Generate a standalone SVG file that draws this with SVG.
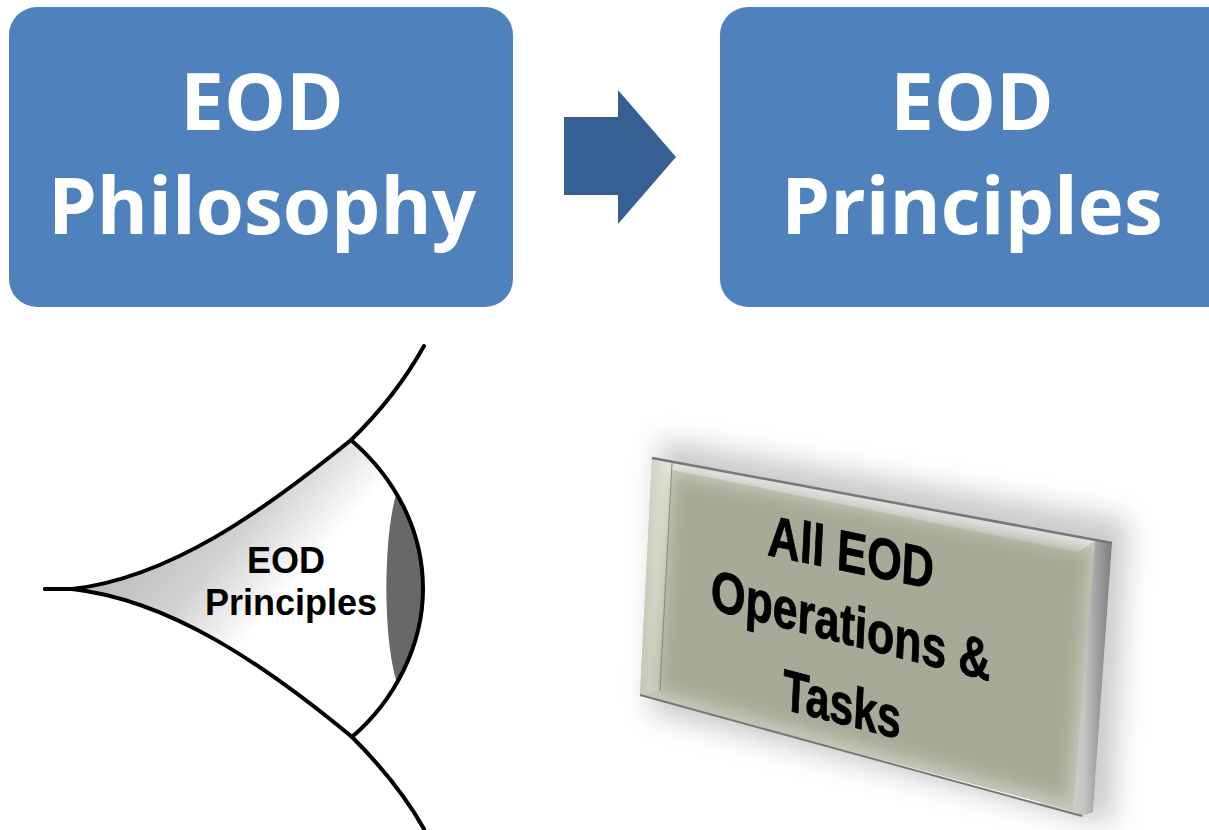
<svg xmlns="http://www.w3.org/2000/svg" width="1209" height="830" viewBox="0 0 1209 830">
<style>
.box{fill:#4f81bd}
.big{font-family:"Open Sans","Liberation Sans",sans-serif;font-weight:700;font-size:78px;fill:#fff;text-anchor:middle}
.lab{font-family:"Liberation Sans",Arial,sans-serif;font-weight:700;font-size:36px;fill:#000;text-anchor:middle}
.pl{font-family:"Liberation Sans",Arial,sans-serif;font-weight:700;font-size:46px;fill:#000;stroke:#000;stroke-width:0.7;text-anchor:middle}
.ln{fill:none;stroke:#000;stroke-width:4;stroke-linecap:round}
</style>
<defs>
<linearGradient id="fun" gradientUnits="userSpaceOnUse" x1="202" y1="463" x2="315" y2="561">
<stop offset="0" stop-color="#bdbdbd"/><stop offset="0.5" stop-color="#d2d2d2"/><stop offset="1" stop-color="#fff"/>
</linearGradient>
<linearGradient id="side" gradientUnits="userSpaceOnUse" x1="1062" y1="0" x2="1112" y2="0">
<stop offset="0" stop-color="#d8d8d0"/><stop offset="0.45" stop-color="#c4c4c4"/><stop offset="0.7" stop-color="#a0a0a0"/><stop offset="1" stop-color="#7e7e7e"/>
</linearGradient>
<linearGradient id="lbev" gradientUnits="userSpaceOnUse" x1="642" y1="0" x2="672" y2="0">
<stop offset="0" stop-color="#c8c8b8"/><stop offset="1" stop-color="#e8e8dc"/>
</linearGradient>
<filter id="sh" x="-25%" y="-30%" width="150%" height="160%"><feGaussianBlur stdDeviation="14"/></filter>
<filter id="soft" x="-10%" y="-10%" width="120%" height="120%"><feGaussianBlur stdDeviation="8"/></filter>
<clipPath id="faceclip"><polygon points="652,458 1095,541 1073,811 640,695"/></clipPath>
<clipPath id="funclip"><path d="M72,589 C170,578 265,510 351,440 C395,478 423,530 423,589 C423,645 395,700 352,737 C265,665 170,600 72,589Z"/></clipPath>
</defs>
<g id="node-philosophy">
<rect class="box" x="9" y="7" width="504" height="300" rx="28"/>
<text class="big" x="262" y="130">EOD</text>
<text class="big" x="262" y="234">Philosophy</text>
</g>
<g id="node-principles">
<rect class="box" x="720" y="7" width="520" height="300" rx="28"/>
<text class="big" x="972" y="130">EOD</text>
<text class="big" x="972" y="234">Principles</text>
</g>
<g id="connectors">
<polygon points="564,117 618,117 618,90 676,157 618,224 618,195 564,195" fill="#376092"/>
</g>
<g id="node-funnel">
<path d="M72,589 C170,578 265,510 351,440 C395,478 423,530 423,589 C423,645 395,700 352,737 C265,665 170,600 72,589Z" fill="url(#fun)"/>
<path d="M396,495 C383,540 383,640 397,683 L440,683 L440,495Z" fill="#686868" clip-path="url(#funclip)"/>
<path class="ln" d="M45,589 L72,589 C170,578 265,510 351,440 C380,412 405,380 424,346"/>
<path class="ln" d="M45,589 L72,589 C170,600 265,665 352,737 C380,765 405,795 424,829"/>
<path class="ln" d="M351,440 C395,478 423,530 423,589 C423,645 395,700 352,737"/>
<text class="lab" x="286" y="573">EOD</text>
<text class="lab" x="291" y="615">Principles</text>
</g>
<g id="node-plaque">
<polygon points="660,440 1128,520 1112,825 650,712" fill="#8a8a8a" opacity="0.45" filter="url(#sh)"/>
<polygon points="652,458 1112,543 1093,812 1082,816 640,695" fill="#fff"/>
<polygon points="1062,536 1112,543 1093,812 1082,816 1040,805" fill="url(#side)"/>
<polygon points="652,458 1095,541 1073,811 640,695" fill="#c8c8b8"/>
<polygon points="652,458 672,468 658,690 640,695" fill="url(#lbev)"/>
<polygon points="652,458 1095,541 1078,552 672,470" fill="#e2e2e0"/>
<g clip-path="url(#faceclip)"><polygon points="674,476 1090,552 1068,800 658,690" fill="#a9a998" filter="url(#soft)"/></g>
<path d="M652,458 L1112,543" stroke="#777" stroke-width="2.5" fill="none"/>
<path d="M640,695 L1082,816" stroke="#777" stroke-width="2" fill="none"/>
<path d="M672,463 L660,690" stroke="#8a8a80" stroke-width="1" fill="none"/>
<text class="pl" transform="matrix(0.97 0.2 -0.06 1.25 850 572)">All EOD</text>
<text class="pl" transform="matrix(0.97 0.25 -0.06 1.25 850 645)">Operations &amp;</text>
<text class="pl" transform="matrix(0.93 0.24 -0.06 1.25 841 724)">Tasks</text>
</g>
</svg>
